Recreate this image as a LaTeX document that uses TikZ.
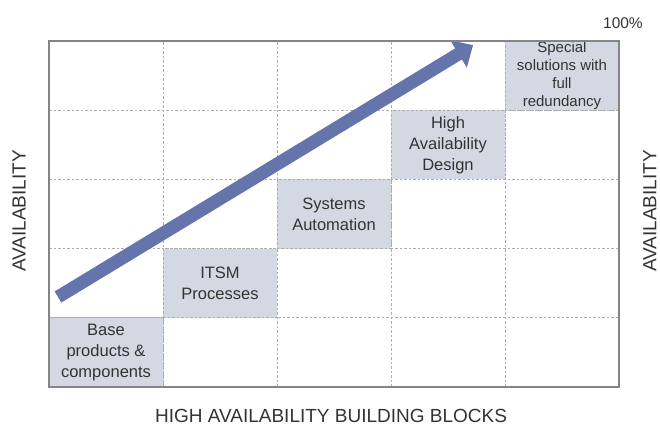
\documentclass[tikz,border=0pt]{standalone}
\usepackage{fontspec}
\setmainfont{Liberation Sans}
\usepackage{tikz}
\usetikzlibrary{arrows.meta}
\usepackage{xcolor}
\definecolor{ArrowBlue}{HTML}{6575AC}
\definecolor{CellGray}{HTML}{D4D8E3}
\definecolor{GridGray}{HTML}{ADADAD}
\definecolor{FrameGray}{HTML}{858585}
\definecolor{TextGray}{HTML}{333333}

\begin{document}
\begin{tikzpicture}[x=114pt, y=69.2pt,
  gridline/.style={draw=GridGray, dash pattern=on 2.5pt off 2pt, line width=0.7pt},
  block/.style={gridline, fill=CellGray, minimum width=114pt, minimum height=69.2pt,
                inner sep=0pt, align=center, text=TextGray,
                font=\fontsize{16.5}{21}\selectfont},
  axislabel/.style={text=TextGray, font=\fontsize{19}{22}\selectfont}]
  \useasboundingbox (-0.43,-0.5925) rectangle (5.36,5.5925);

  % dashed grid, 5 x 5 cells
  \foreach \k in {1,...,4}{
    \draw[gridline] (\k,0) -- (\k,5);
    \draw[gridline] (0,\k) -- (5,\k);
  }

  % building blocks, one step up per column
  \node[block] (blk0) at (0.5,0.5) {Base\\products \&\\components};
  \node[block] (blk1) at (1.5,1.5) {ITSM\\Processes};
  \node[block] (blk2) at (2.5,2.5) {Systems\\Automation};
  \node[block] (blk3) at (3.5,3.5) {High\\Availability\\Design};
  \node[block, font=\fontsize{15}{18}\selectfont] (blk4) at (4.5,4.5)
    {Special\\solutions with\\full\\redundancy};

  % rising arrow
  \coordinate (tail) at (0.079,1.30);
  \coordinate (tip) at (3.72,4.94);
  \draw[ArrowBlue, line width=13pt, -{Triangle[length=17pt,width=31pt]}] (tail) -- (tip);

  % outer frame
  \draw[FrameGray, line width=1.5pt] (0,0) rectangle (5,5);

  % axis texts
  \node[axislabel] (xlabel) at (2.474,-0.42) {HIGH AVAILABILITY BUILDING BLOCKS};
  \node[axislabel, rotate=90] (ylabel) at (-0.263,2.543) {AVAILABILITY};
  \node[axislabel, rotate=90] (ylabelright) at (5.27,2.543) {AVAILABILITY};
  \node[text=TextGray, font=\fontsize{15.5}{18}\selectfont] (full) at (5.035,5.26) {100\%};
\end{tikzpicture}
\end{document}
